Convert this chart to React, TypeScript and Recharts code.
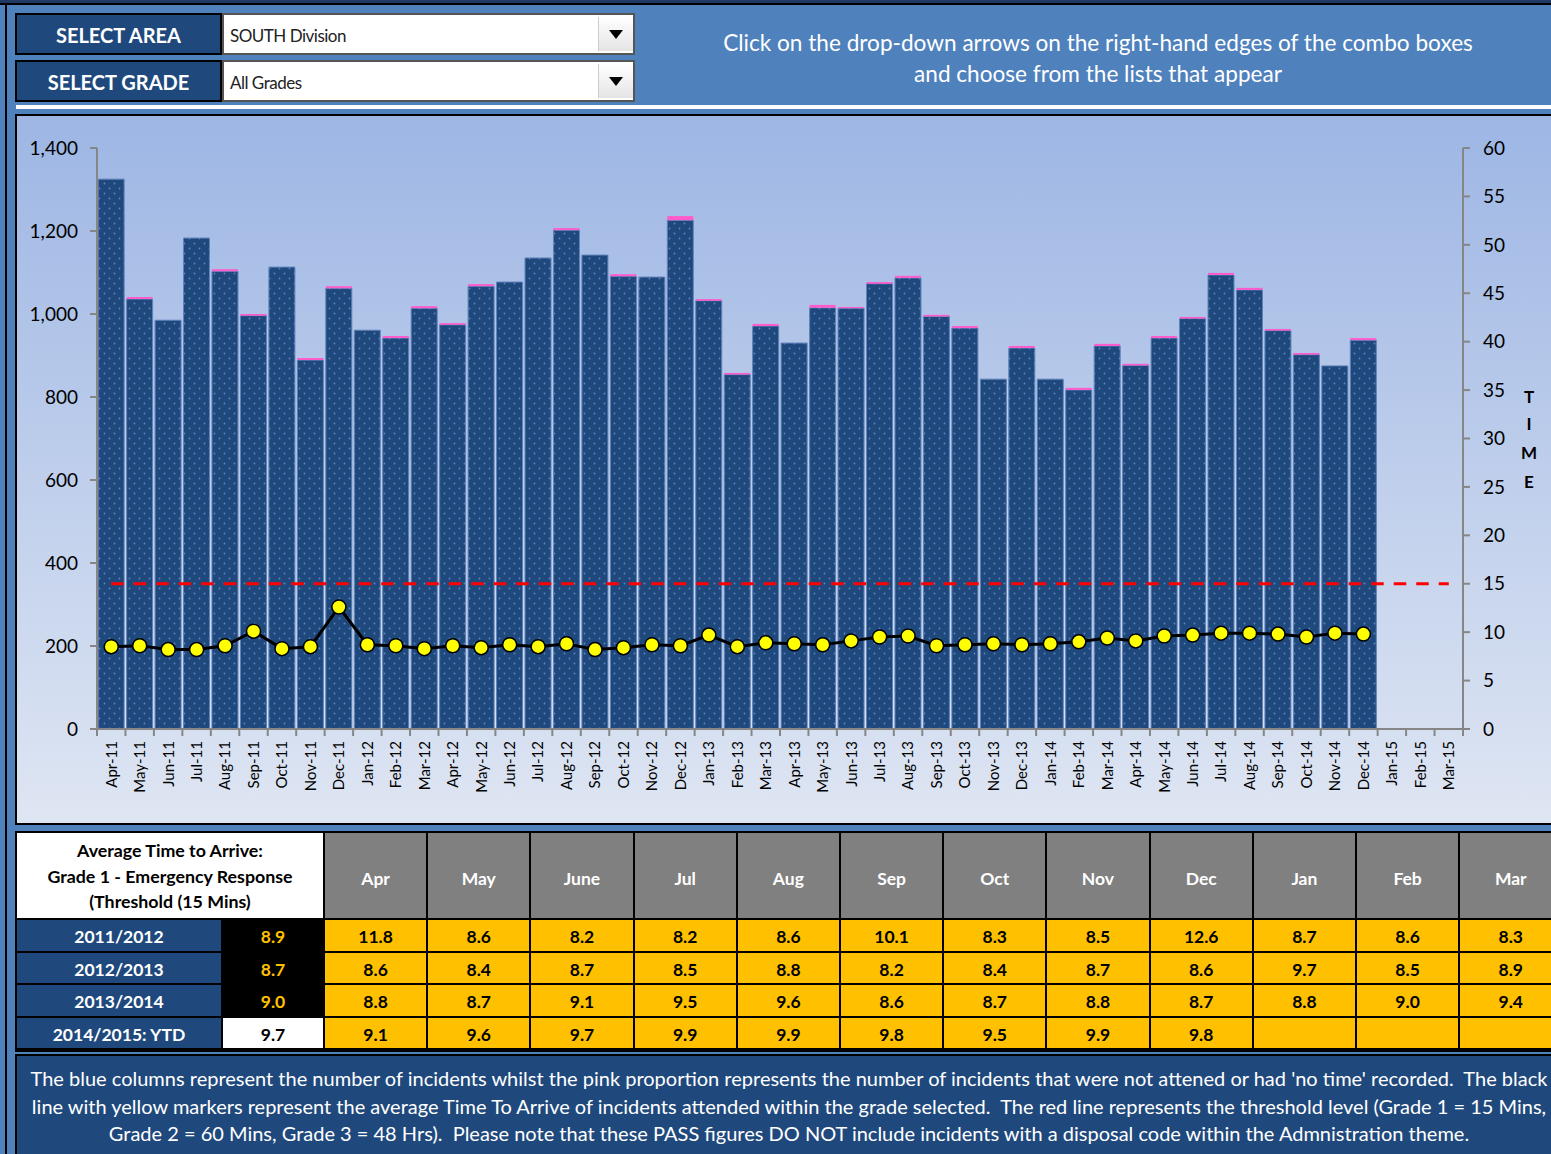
import { ComposedChart, Bar, Line, XAxis, YAxis, ReferenceLine } from 'recharts'

const MONTHS = [
  'Apr-11', 'May-11', 'Jun-11', 'Jul-11', 'Aug-11', 'Sep-11', 'Oct-11', 'Nov-11', 'Dec-11', 'Jan-12', 'Feb-12', 'Mar-12',
  'Apr-12', 'May-12', 'Jun-12', 'Jul-12', 'Aug-12', 'Sep-12', 'Oct-12', 'Nov-12', 'Dec-12', 'Jan-13', 'Feb-13', 'Mar-13',
  'Apr-13', 'May-13', 'Jun-13', 'Jul-13', 'Aug-13', 'Sep-13', 'Oct-13', 'Nov-13', 'Dec-13', 'Jan-14', 'Feb-14', 'Mar-14',
  'Apr-14', 'May-14', 'Jun-14', 'Jul-14', 'Aug-14', 'Sep-14', 'Oct-14', 'Nov-14', 'Dec-14', 'Jan-15', 'Feb-15', 'Mar-15',
]

// incidents with a time recorded (blue part)
const ATTENDED = [
  1325, 1036, 985, 1183, 1103, 996, 1113, 889, 1062, 961, 942, 1014,
  974, 1067, 1077, 1135, 1202, 1142, 1091, 1089, 1226, 1032, 854, 971,
  930, 1015, 1014, 1073, 1087, 994, 966, 843, 918, 843, 817, 923,
  876, 942, 989, 1094, 1058, 960, 902, 875, 937, null, null, null,
]

// not attended / 'no time' recorded (pink part)
const NO_TIME = [
  0, 5, 0, 0, 5, 4, 0, 5, 5, 0, 5, 5,
  4, 5, 0, 0, 5, 0, 5, 0, 10, 4, 4, 5,
  0, 7, 3, 4, 5, 4, 5, 0, 5, 0, 5, 5,
  4, 5, 4, 5, 5, 4, 4, 0, 5, null, null, null,
]

// average time to arrive (mins)
const AVG_TIME = [
  8.5, 8.6, 8.2, 8.2, 8.6, 10.1, 8.3, 8.5, 12.6, 8.7, 8.6, 8.3,
  8.6, 8.4, 8.7, 8.5, 8.8, 8.2, 8.4, 8.7, 8.6, 9.7, 8.5, 8.9,
  8.8, 8.7, 9.1, 9.5, 9.6, 8.6, 8.7, 8.8, 8.7, 8.8, 9.0, 9.4,
  9.1, 9.6, 9.7, 9.9, 9.9, 9.8, 9.5, 9.9, 9.8, null, null, null,
]

const THRESHOLD = 15
const LEFT_TICKS = [0, 200, 400, 600, 800, 1000, 1200, 1400]
const RIGHT_TICKS = [0, 5, 10, 15, 20, 25, 30, 35, 40, 45, 50, 55, 60]

const TABLE_MONTHS = ['Apr', 'May', 'June', 'Jul', 'Aug', 'Sep', 'Oct', 'Nov', 'Dec', 'Jan', 'Feb', 'Mar']
const SEASONS = ['2011/2012', '2012/2013', '2013/2014', '2014/2015: YTD']
const SEASON_AVG = ['8.9', '8.7', '9.0', '9.7']
const SEASON_ROWS = [
  ['11.8', '8.6', '8.2', '8.2', '8.6', '10.1', '8.3', '8.5', '12.6', '8.7', '8.6', '8.3'],
  ['8.6', '8.4', '8.7', '8.5', '8.8', '8.2', '8.4', '8.7', '8.6', '9.7', '8.5', '8.9'],
  ['8.8', '8.7', '9.1', '9.5', '9.6', '8.6', '8.7', '8.8', '8.7', '8.8', '9.0', '9.4'],
  ['9.1', '9.6', '9.7', '9.9', '9.9', '9.8', '9.5', '9.9', '9.8', '', '', ''],
]

const data = MONTHS.map((m, i) => ({ month: m, attended: ATTENDED[i], noTime: NO_TIME[i], time: AVG_TIME[i] }))

const FONT = 'Lato, "Open Sans", sans-serif'
const NAVY = '#1F497D'
const AXIS = '#868686'

function MonthTick({ x, y, payload, index }: any) {
  const half = payload?.offset || 14.23
  return (
    <g>
      <line x1={x - half} y1={y} x2={x - half} y2={y + 7} stroke={AXIS} strokeWidth={2} />
      {index === MONTHS.length - 1 && <line x1={x + half} y1={y} x2={x + half} y2={y + 7} stroke={AXIS} strokeWidth={2} />}
      <text x={x} y={y + 12} transform={`rotate(-90 ${x} ${y + 12})`} textAnchor="end" dy="0.36em" fontSize={15} fontFamily={FONT} fill="#000">
        {payload.value}
      </text>
    </g>
  )
}

function Select({ top, label, value }: { top: number; label: string; value: string }) {
  return (
    <>
      <div style={{ position: 'absolute', left: 15, top, width: 203, height: 38, background: NAVY, border: '2px solid #000', color: '#fff', fontWeight: 700, fontSize: 20, lineHeight: '40px', textAlign: 'center' }}>{label}</div>
      <div style={{ position: 'absolute', left: 222, top, width: 409, height: 38, background: '#fff', border: '2px solid #555' }}>
        <div style={{ position: 'absolute', left: 6, top: 2, lineHeight: '38px', fontSize: 17, color: '#222', letterSpacing: -0.5 }}>{value}</div>
        <div style={{ position: 'absolute', right: 0, top: 2, width: 34, height: 34, background: 'linear-gradient(#fff,#e4e4e4)', borderLeft: '1px solid #ccc' }}>
          <div style={{ position: 'absolute', left: 10, top: 13, width: 0, height: 0, borderLeft: '7px solid transparent', borderRight: '7px solid transparent', borderTop: '9px solid #000' }} />
        </div>
      </div>
    </>
  )
}

export default function App() {
  const colX = (i: number) => 325 + i * 103.2
  const rowY = [920, 952.5, 985, 1017.5]
  const cell = { position: 'absolute' as const, fontWeight: 700, fontSize: 17.5, lineHeight: '33px', textAlign: 'center' as const, height: 30.5 }
  return (
    <div style={{ position: 'absolute', left: 0, top: 0, width: 1551, height: 1154, overflow: 'hidden', background: '#4F81BD', fontFamily: FONT }}>
      <svg width={0} height={0} style={{ position: 'absolute' }}>
        <defs>
          <pattern id="dots" width={10} height={10} patternUnits="userSpaceOnUse">
            <rect width={10} height={10} fill={NAVY} />
            <circle cx={2.5} cy={2.5} r={0.9} fill="#5A83C0" />
            <circle cx={7.5} cy={7.5} r={0.9} fill="#5A83C0" />
          </pattern>
        </defs>
      </svg>

      <div style={{ position: 'absolute', left: 0, top: 0, width: 1551, height: 3, background: '#203864' }} />
      <div style={{ position: 'absolute', left: 0, top: 3, width: 1551, height: 2, background: '#000' }} />
      <div style={{ position: 'absolute', left: 5, top: 3, width: 2, height: 1151, background: '#000' }} />

      <Select top={13} label="SELECT AREA" value="SOUTH Division" />
      <Select top={60} label="SELECT GRADE" value="All Grades" />

      <div style={{ position: 'absolute', left: 640, top: 27, width: 916, textAlign: 'center', color: '#fff', fontSize: 22.6, lineHeight: '31px', whiteSpace: 'nowrap' }}>
        Click on the drop-down arrows on the right-hand edges of the combo boxes<br />and choose from the lists that appear
      </div>

      <div style={{ position: 'absolute', left: 16, top: 105, width: 1535, height: 4, background: '#fff' }} />

      <div style={{ position: 'absolute', left: 15, top: 114, width: 1560, height: 707, border: '2px solid #000', background: 'linear-gradient(#9DB6E4, #DFE6F3)' }}>
        <div style={{ position: 'absolute', left: 0, top: 0 }}>
          <ComposedChart width={1534} height={707} data={data} margin={{ top: 32, right: 0, left: 0, bottom: 0 }} barCategoryGap="4%">
            <XAxis dataKey="month" interval={0} height={94} tickSize={0} tickMargin={0} tickLine={false} axisLine={{ stroke: AXIS, strokeWidth: 2 }} tick={<MonthTick />} />
            <YAxis yAxisId="left" width={80} domain={[0, 1400]} ticks={LEFT_TICKS} tickSize={7} tickMargin={12} axisLine={{ stroke: AXIS, strokeWidth: 2 }} tickLine={{ stroke: AXIS, strokeWidth: 2 }} tickFormatter={(v) => v.toLocaleString('en-GB')} tick={{ fontSize: 19, fill: '#000', fontFamily: FONT }} />
            <YAxis yAxisId="right" orientation="right" width={88} domain={[0, 60]} ticks={RIGHT_TICKS} tickSize={7} tickMargin={13} axisLine={{ stroke: AXIS, strokeWidth: 2 }} tickLine={{ stroke: AXIS, strokeWidth: 2 }} tick={{ fontSize: 19, fill: '#000', fontFamily: FONT, textAnchor: 'start' }} />
            <Bar yAxisId="left" dataKey="attended" stackId="inc" fill="url(#dots)" stroke="#5F82BA" strokeWidth={1} isAnimationActive={false} />
            <Bar yAxisId="left" dataKey="noTime" stackId="inc" fill="#FF5CCB" isAnimationActive={false} />
            <ReferenceLine yAxisId="right" segment={[{ x: MONTHS[0], y: THRESHOLD }, { x: MONTHS[MONTHS.length - 1], y: THRESHOLD }]} stroke="#FF0000" strokeWidth={3} strokeDasharray="12.5 10" />
            <Line yAxisId="right" dataKey="time" stroke="#000" strokeWidth={3} dot={{ r: 7, fill: '#FFFF00', stroke: '#000', strokeWidth: 1.5 }} isAnimationActive={false} />
          </ComposedChart>
        </div>
      </div>

      {['T', 'I', 'M', 'E'].map((c, i) => (
        <div key={c} style={{ position: 'absolute', left: 1515, top: [387, 414, 443, 472][i], width: 28, textAlign: 'center', fontWeight: 700, fontSize: 17, lineHeight: '20px', color: '#000' }}>{c}</div>
      ))}

      <div style={{ position: 'absolute', left: 15, top: 831, width: 1560, height: 221, background: '#000' }} />
      <div style={{ position: 'absolute', left: 17, top: 833, width: 306, height: 85, background: '#fff', display: 'flex', alignItems: 'center', justifyContent: 'center', textAlign: 'center', fontWeight: 700, fontSize: 17.8, lineHeight: '25.5px', color: '#000', whiteSpace: 'nowrap', paddingTop: 2, boxSizing: 'border-box' }}>
        <div>Average Time to Arrive:<br />Grade 1 - Emergency Response<br />(Threshold (15 Mins)</div>
      </div>
      {TABLE_MONTHS.map((m, i) => (
        <div key={m} style={{ position: 'absolute', left: colX(i), top: 833, width: 101.2, height: 85, background: '#808080', color: '#fff', fontWeight: 700, fontSize: 17.5, lineHeight: '92px', textAlign: 'center' }}>{m}</div>
      ))}
      {SEASONS.map((s, r) => (
        <div key={s}>
          <div style={{ ...cell, left: 17, top: rowY[r], width: 204, background: NAVY, color: '#fff' }}>{s}</div>
          <div style={{ ...cell, left: 223, top: rowY[r], width: 100, background: r < 3 ? '#000' : '#fff', color: r < 3 ? '#FFC000' : '#000' }}>{SEASON_AVG[r]}</div>
          {SEASON_ROWS[r].map((v, i) => (
            <div key={i} style={{ ...cell, left: colX(i), top: rowY[r], width: 101.2, background: '#FFC000', color: '#000' }}>{v}</div>
          ))}
        </div>
      ))}

      <div style={{ position: 'absolute', left: 15, top: 1054, width: 1544, height: 110, background: NAVY, border: '2px solid #000', color: '#fff', fontSize: 20, lineHeight: '27.5px', textAlign: 'center', paddingTop: 9, whiteSpace: 'nowrap' }}>
        The blue columns represent the number of incidents whilst the pink proportion represents the number of incidents that were not attened or had 'no time' recorded.&nbsp; The black<br />
        line with yellow markers represent the average Time To Arrive of incidents attended within the grade selected.&nbsp; The red line represents the threshold level (Grade 1 = 15 Mins,<br />
        Grade 2 = 60 Mins, Grade 3 = 48 Hrs).&nbsp; Please note that these PASS figures DO NOT include incidents with a disposal code within the Admnistration theme.
      </div>
    </div>
  )
}
